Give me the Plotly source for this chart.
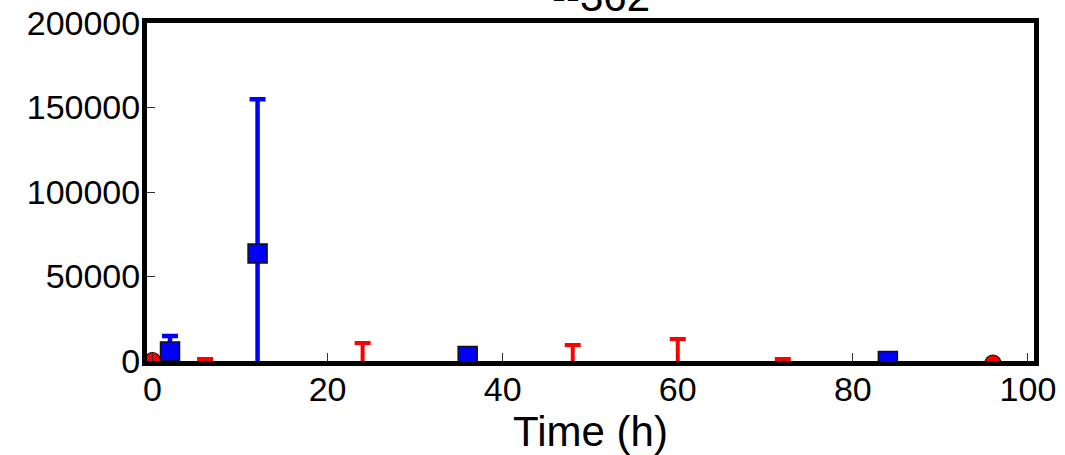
import plotly.graph_objects as go

# ---- data ----
blue_time = [2, 12, 36, 84]
blue_mean = [5600, 63600, 3000, 0]
blue_err = [9200, 91250, 2000, 2000]

red_time = [0, 6, 24, 48, 60, 72, 96]
red_mean = [300, -5000, -5000, -5000, -5000, -5000, -1200]
red_err = [1000, 6200, 15650, 14470, 18000, 6200, 500]

x_ticks = [0, 20, 40, 60, 80, 100]
y_ticks = [0, 50000, 100000, 150000, 200000]
title_text = "--362"

FONT = "Liberation Sans, Arial, Helvetica, sans-serif"

fig = go.Figure()

fig.add_trace(go.Scatter(
    x=blue_time, y=blue_mean, mode="markers",
    marker=dict(symbol="square", size=19, color="#0000ff",
                line=dict(color="#111111", width=1.5)),
    error_y=dict(type="data", array=blue_err, visible=True,
                 color="#0000ff", thickness=4.5, width=8),
    showlegend=False,
))

fig.add_trace(go.Scatter(
    x=red_time, y=red_mean, mode="markers",
    marker=dict(symbol="circle", size=16, color="#ff0000",
                line=dict(color="#111111", width=1.2)),
    error_y=dict(type="data", array=red_err, visible=True,
                 color="#ff0000", thickness=4, width=8),
    showlegend=False,
))

axis_common = dict(
    showline=True, linewidth=5, linecolor="black", mirror=True,
    ticks="inside", ticklen=8, tickwidth=1.2, tickcolor="#333333",
    showgrid=False, zeroline=False, automargin=False,
    ticklabeloverflow="allow",
    tickfont=dict(family=FONT, size=34, color="black"),
)

fig.update_xaxes(
    range=[-0.63, 100.69], tickvals=x_ticks,
    ticktext=[str(v) for v in x_ticks],
    ticklabelstandoff=-6,
    title=dict(text="Time (h)", font=dict(family=FONT, size=42, color="black"),
               standoff=0),
    **axis_common,
)
fig.update_yaxes(
    range=[0, 200000], tickvals=y_ticks,
    ticktext=[str(v) for v in y_ticks],
    ticklabelstandoff=-5,
    **axis_common,
)

fig.add_annotation(
    x=0.512, y=1, xref="paper", yref="paper",
    xanchor="center", yanchor="bottom", yshift=1,
    text=title_text, showarrow=False,
    font=dict(family=FONT, size=42, color="black"),
)

fig.update_layout(
    width=1065, height=455,
    margin=dict(l=147, r=31, t=23, b=94, pad=0, autoexpand=False),
    paper_bgcolor="white", plot_bgcolor="white",
)

fig.write_html(
    "out.html",
    config={"displayModeBar": False},
    post_script="document.body.style.margin='0';document.body.style.overflow='hidden';",
)
